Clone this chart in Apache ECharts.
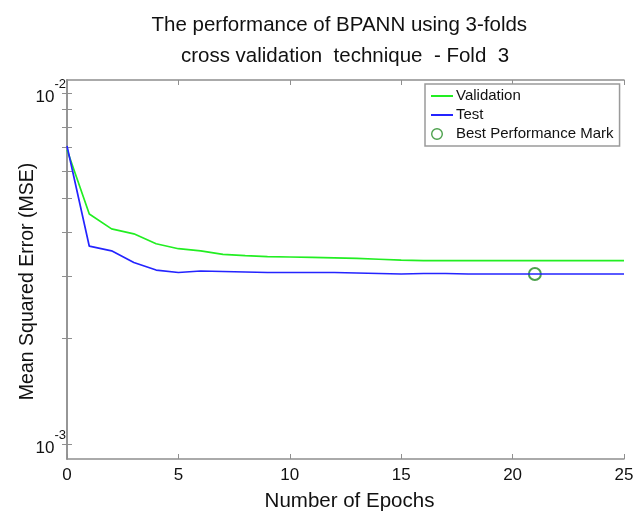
<!DOCTYPE html>
<html>
<head>
<meta charset="utf-8">
<script src="https://cdn.jsdelivr.net/npm/echarts@6/dist/echarts.min.js"></script>
<style>
  html, body { margin: 0; padding: 0; background: #fff; }
  #chart { width: 640px; height: 512px; }
</style>
</head>
<body>
<div id="chart"></div>
<script>
  // epochs 0..25
  const epochs = [0, 1, 2, 3, 4, 5, 6, 7, 8, 9, 10, 11, 12, 13, 14, 15, 16, 17, 18, 19, 20, 21, 22, 23, 24, 25];
  const validation = [0.00689, 0.00452, 0.00410, 0.00397, 0.00372, 0.00360, 0.00355, 0.00347, 0.00344, 0.00342,
    0.00341, 0.00340, 0.00339, 0.00338, 0.00336, 0.00334, 0.00333, 0.00333, 0.00333, 0.00333,
    0.00333, 0.00333, 0.00333, 0.00333, 0.00333, 0.00333];
  const test = [0.00706, 0.00366, 0.00355, 0.00329, 0.00313, 0.00308, 0.00311, 0.00310, 0.00309, 0.00308,
    0.00308, 0.00308, 0.00308, 0.00307, 0.00306, 0.00305, 0.00306, 0.00306, 0.00305, 0.00305,
    0.00305, 0.00305, 0.00305, 0.00305, 0.00305, 0.00305];
  const bestEpoch = 21;
  const bestValue = 0.00305;
  const yLabelValues = [0.001, 0.01];
  const yTickValues = [0.001, 0.002, 0.003, 0.004, 0.005, 0.006, 0.007, 0.008, 0.009, 0.01];
  const xTicks = [0, 5, 10, 15, 20, 25];

  const chart = echarts.init(document.getElementById('chart'));
  const axisGray = '#8f8f8f';
  const markGreen = '#1f8a1f';

  const pairs = (ys) => epochs.map((e, i) => [e, ys[i]]);

  function expLabel(v) {
    const e = Math.round(Math.log10(v));
    return '{b|10}{s|' + e + '}';
  }

  // ring sitting at the left of the legend icon box (like matlab's marker)
  const ringIcon = 'path://M0,6 A6,6 0 1,1 12,6 A6,6 0 1,1 0,6 Z ' +
    'M1.4,6 A4.6,4.6 0 1,0 10.6,6 A4.6,4.6 0 1,0 1.4,6 Z M21.9,6 L22,6 L22,6.1 Z';

  const xCommon = {
    type: 'value',
    min: 0,
    max: 25,
    interval: 5,
    axisLine: { show: true, lineStyle: { color: axisGray, width: 1.5 } },
    axisTick: { show: true, inside: true, length: 5, lineStyle: { color: axisGray } },
    splitLine: { show: false }
  };
  const yCommon = {
    type: 'log',
    logBase: 10,
    min: 0.000906,
    max: 0.01089,
    axisLine: { show: true, lineStyle: { color: axisGray, width: 1.5 } },
    axisTick: { show: true, inside: true, length: 5, customValues: yTickValues, lineStyle: { color: axisGray } },
    splitLine: { show: false }
  };

  const option = {
    animation: false,
    title: {
      text: 'The performance of BPANN using 3-folds  \ncross validation  technique  - Fold  3',
      left: 340,
      top: 5,
      textAlign: 'center',
      textStyle: {
        fontFamily: 'Liberation Sans',
        fontSize: 20.5,
        fontWeight: 'normal',
        color: '#111',
        lineHeight: 31
      }
    },
    grid: { left: 67, right: 16, top: 80, bottom: 53, outerBoundsMode: 'none' },
    legend: {
      orient: 'vertical',
      left: 425,
      top: 84,
      padding: [4, 6, 4, 5],
      itemGap: 3,
      itemWidth: 22,
      itemHeight: 12,
      backgroundColor: '#fff',
      borderColor: '#9a9a9a',
      borderWidth: 1.5,
      borderRadius: 0,
      textStyle: { fontFamily: 'Liberation Sans', fontSize: 15, color: '#111', lineHeight: 16, padding: [0, 0, 0, -2] },
      data: [
        { name: 'Validation', itemStyle: { opacity: 0 } },
        { name: 'Test', itemStyle: { opacity: 0 } },
        { name: 'Best Performance Mark', icon: ringIcon, itemStyle: { color: markGreen, borderWidth: 0 } }
      ]
    },
    xAxis: [
      Object.assign({}, xCommon, {
        position: 'bottom',
        name: 'Number of Epochs',
        nameLocation: 'middle',
        nameGap: 32,
        nameTextStyle: { fontFamily: 'Liberation Sans', fontSize: 20.5, color: '#111', padding: [0, 0, 0, 8] },
        axisLabel: {
          show: true,
          margin: 8,
          fontFamily: 'Liberation Sans',
          fontSize: 17,
          color: '#111',
          customValues: xTicks
        }
      }),
      Object.assign({}, xCommon, {
        position: 'top',
        axisLabel: { show: false }
      })
    ],
    yAxis: [
      Object.assign({}, yCommon, {
        position: 'left',
        name: 'Mean Squared Error (MSE)',
        nameLocation: 'middle',
        nameGap: 29,
        nameMoveOverlap: false,
        nameTextStyle: { fontFamily: 'Liberation Sans', fontSize: 19.5, color: '#111', padding: [0, 24, 0, 0] },
        axisLabel: {
          show: true,
          margin: 1,
          customValues: yLabelValues,
          formatter: expLabel,
          rich: {
            b: { fontFamily: 'Liberation Sans', fontSize: 17, color: '#111', verticalAlign: 'bottom', lineHeight: 17, padding: [0, 0, 2, 0] },
            s: { fontFamily: 'Liberation Sans', fontSize: 13, color: '#111', verticalAlign: 'top', lineHeight: 30 }
          }
        }
      }),
      Object.assign({}, yCommon, {
        position: 'right',
        axisLabel: { show: false }
      })
    ],
    series: [
      {
        name: 'Validation',
        type: 'line',
        xAxisIndex: 0,
        yAxisIndex: 0,
        symbol: 'none',
        lineStyle: { color: '#22ee22', width: 1.7 },
        itemStyle: { color: '#22ee22' },
        data: pairs(validation)
      },
      {
        name: 'Test',
        type: 'line',
        xAxisIndex: 0,
        yAxisIndex: 0,
        symbol: 'none',
        lineStyle: { color: '#2424ff', width: 1.7 },
        itemStyle: { color: '#2424ff' },
        data: pairs(test)
      },
      {
        name: 'Best Performance Mark',
        type: 'scatter',
        xAxisIndex: 0,
        yAxisIndex: 0,
        symbol: 'emptyCircle',
        symbolSize: 12,
        itemStyle: { color: markGreen, borderColor: markGreen, borderWidth: 1.6 },
        data: [[bestEpoch, bestValue]]
      },
      {
        // binds the mirrored right/top axes so their ticks render
        name: '',
        type: 'line',
        xAxisIndex: 1,
        yAxisIndex: 1,
        symbol: 'none',
        silent: true,
        lineStyle: { opacity: 0 },
        data: pairs(test)
      }
    ]
  };

  chart.setOption(option);
</script>
</body>
</html>
